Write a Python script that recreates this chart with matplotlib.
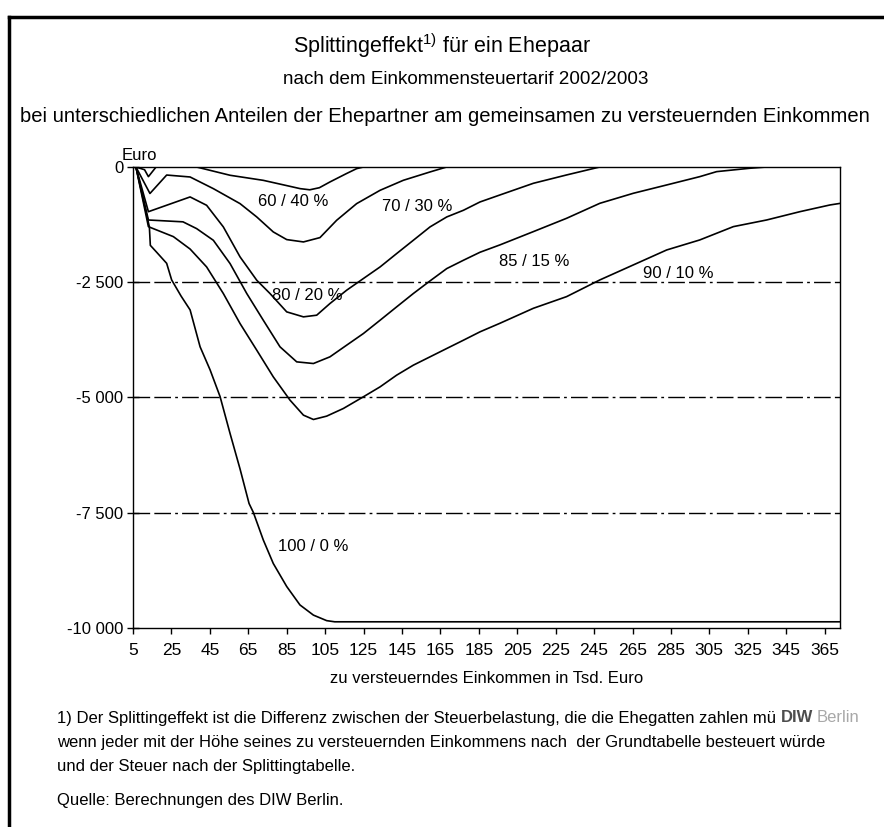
import matplotlib
matplotlib.use("Agg")
import matplotlib.pyplot as plt
from matplotlib.lines import Line2D

plt.rcParams["font.family"] = ["Liberation Sans", "DejaVu Sans"]

# Splitting effect in Euro by taxable income (Tsd. Euro)
x_60 = [5, 6.5, 11, 13, 17, 38, 55.5, 72.8, 86.7, 92, 97, 102, 107.5, 116, 121.4, 125, 373]
y_60 = [0, 0, -60, -210, 0, 0, -180, -290, -420, -470, -495, -450, -325, -145, -36, 0, 0]

x_70 = [5, 6.5, 13.8, 22.5, 34.7, 46.8, 60.7, 69.4, 78, 85, 93.7, 102.3, 111, 121.4,
        133.6, 145.7, 159.6, 168.3, 373]
y_70 = [0, 0, -575, -175, -217, -470, -795, -1084, -1409, -1575, -1626, -1532, -1156,
        -795, -506, -289, -108, 0, 0]

x_80 = [5, 6.5, 13, 34.7, 43.3, 52, 60.7, 69.4, 76.3, 85, 93.7, 100.6, 107.5, 116.2,
        124.9, 133.6, 142.2, 150.9, 159.6, 168.3, 177, 185.6, 196, 213.4, 230.7, 248, 373]
y_80 = [0, 0, -970, -650, -831, -1300, -1950, -2457, -2745, -3143, -3251, -3215, -2962,
        -2673, -2420, -2168, -1879, -1590, -1300, -1084, -939, -759, -607, -354, -173, 0, 0]

x_85 = [5, 6.5, 13, 31, 38.1, 46.8, 55.5, 64.2, 72.8, 81.5, 90.2, 98.9, 107.5, 116.2,
        124.9, 133.6, 142.2, 150.9, 159.6, 168.3, 177, 185.6, 196, 213.4, 230.7, 248,
        265.4, 282.8, 300, 308.8, 326, 335, 373]
y_85 = [0, 0, -1150, -1190, -1337, -1590, -2095, -2745, -3324, -3901, -4227, -4263,
        -4118, -3865, -3613, -3324, -3035, -2745, -2471, -2204, -2023, -1850, -1690,
        -1402, -1113, -788, -571, -390, -210, -101, -28, 0, 0]

x_90 = [5, 6.5, 13, 26, 34.7, 43.3, 52, 60.7, 69.4, 78, 86.7, 93.7, 98.9, 105.8, 114.5,
        124.9, 133.6, 142.2, 150.9, 159.6, 168.3, 177, 185.6, 196, 213.4, 230.7, 248,
        265.4, 282.8, 300, 317.5, 334.8, 352.2, 367.8, 373]
y_90 = [0, 0, -1295, -1511, -1780, -2168, -2745, -3396, -3974, -4552, -5057, -5383,
        -5477, -5404, -5238, -4985, -4769, -4516, -4299, -4118, -3937, -3757, -3576,
        -3390, -3065, -2812, -2450, -2125, -1800, -1583, -1294, -1150, -969, -824, -790]

x_100 = [5, 6.5, 13.5, 14, 17.3, 22.5, 25.1, 30, 34.7, 39.9, 45.1, 50.3, 55.5, 60.7,
         65.4, 67.6, 72.8, 78, 85, 91.9, 98.9, 105.8, 110, 373]
y_100 = [0, 0, -1300, -1700, -1850, -2090, -2450, -2800, -3100, -3900, -4400, -4980,
         -5780, -6550, -7300, -7490, -8090, -8600, -9100, -9500, -9720, -9840, -9865, -9865]

curve_labels = ["60 / 40 %", "70 / 30 %", "80 / 20 %", "85 / 15 %", "90 / 10 %", "100 / 0 %"]
label_x = [88.3, 153, 95.8, 213.7, 288.7, 98.7]
label_y = [-752, -861, -2777, -2054, -2306, -8236]

x_ticks = list(range(5, 366, 20))
y_ticks = [-10000, -7500, -5000, -2500, 0]
y_ticklabels = ["-10 000", "-7 500", "-5 000", "-2 500", "0"]
grid_levels = [-2500, -5000, -7500]

fig = plt.figure(figsize=(8.84, 8.27), dpi=100)
ax = fig.add_axes([0.1505, 0.2406, 0.7997, 0.5575])

for xs, ys in [(x_60, y_60), (x_70, y_70), (x_80, y_80), (x_85, y_85), (x_90, y_90), (x_100, y_100)]:
    ax.plot(xs, ys, color="black", lw=1.2, zorder=3)

for g in grid_levels:
    ax.axhline(g, color="black", lw=1.0, linestyle=(0, (12, 3, 12, 3, 2, 3)), zorder=2)

for txt, lx, ly in zip(curve_labels, label_x, label_y):
    ax.text(lx, ly, txt, ha="center", va="center", fontsize=12, zorder=4)

ax.set_xlim(5, 373)
ax.set_ylim(-10000, 0)
ax.set_xticks(x_ticks)
ax.set_yticks(y_ticks)
ax.set_yticklabels(y_ticklabels)
ax.tick_params(axis="y", direction="inout", length=8, width=1, labelsize=12, pad=3)
ax.tick_params(axis="x", direction="out", length=4, width=1, labelsize=12.5, pad=7)
for s in ax.spines.values():
    s.set_linewidth(1.0)

ax.set_xlabel("zu versteuerndes Einkommen in Tsd. Euro", fontsize=12, labelpad=9)
fig.text(139 / 884, 1 - 163 / 827, "Euro", ha="center", va="bottom", fontsize=12)

# titles
fig.text(0.5, 1 - 46 / 827, r"Splittingeffekt$^{\mathregular{1)}}$ für ein Ehepaar",
         ha="center", va="center", fontsize=15.5)
fig.text(466 / 884, 1 - 79 / 827, "nach dem Einkommensteuertarif 2002/2003",
         ha="center", va="center", fontsize=13.6)
fig.text(445 / 884, 1 - 116 / 827,
         "bei unterschiedlichen Anteilen der Ehepartner am gemeinsamen zu versteuernden Einkommen",
         ha="center", va="center", fontsize=14.6)

# footnote
notes = ["1) Der Splittingeffekt ist die Differenz zwischen der Steuerbelastung, die die Ehegatten zahlen mü",
         "wenn jeder mit der Höhe seines zu versteuernden Einkommens nach  der Grundtabelle besteuert würde",
         "und der Steuer nach der Splittingtabelle."]
for i, line in enumerate(notes):
    fig.text(57 / 884, 1 - (718 + i * 24) / 827, line, ha="left", va="center", fontsize=12)
fig.text(781 / 884, 1 - 718 / 827, "DIW", ha="left", va="center", fontsize=12,
         color="#4d4d4d", fontweight="bold")
fig.text(817 / 884, 1 - 718 / 827, "Berlin", ha="left", va="center", fontsize=12, color="#a8a8a8")
fig.text(57 / 884, 1 - 800 / 827, "Quelle: Berechnungen des DIW Berlin.",
         ha="left", va="center", fontsize=12)

# outer frame (top and left edges)
fig.add_artist(Line2D([9 / 884, 1.0], [1 - 17 / 827, 1 - 17 / 827], color="black", lw=2.5,
                      transform=fig.transFigure))
fig.add_artist(Line2D([9 / 884, 9 / 884], [1 - 17 / 827, 0.0], color="black", lw=2.5,
                      transform=fig.transFigure))

fig.savefig("out.png", dpi=100, facecolor="white")
